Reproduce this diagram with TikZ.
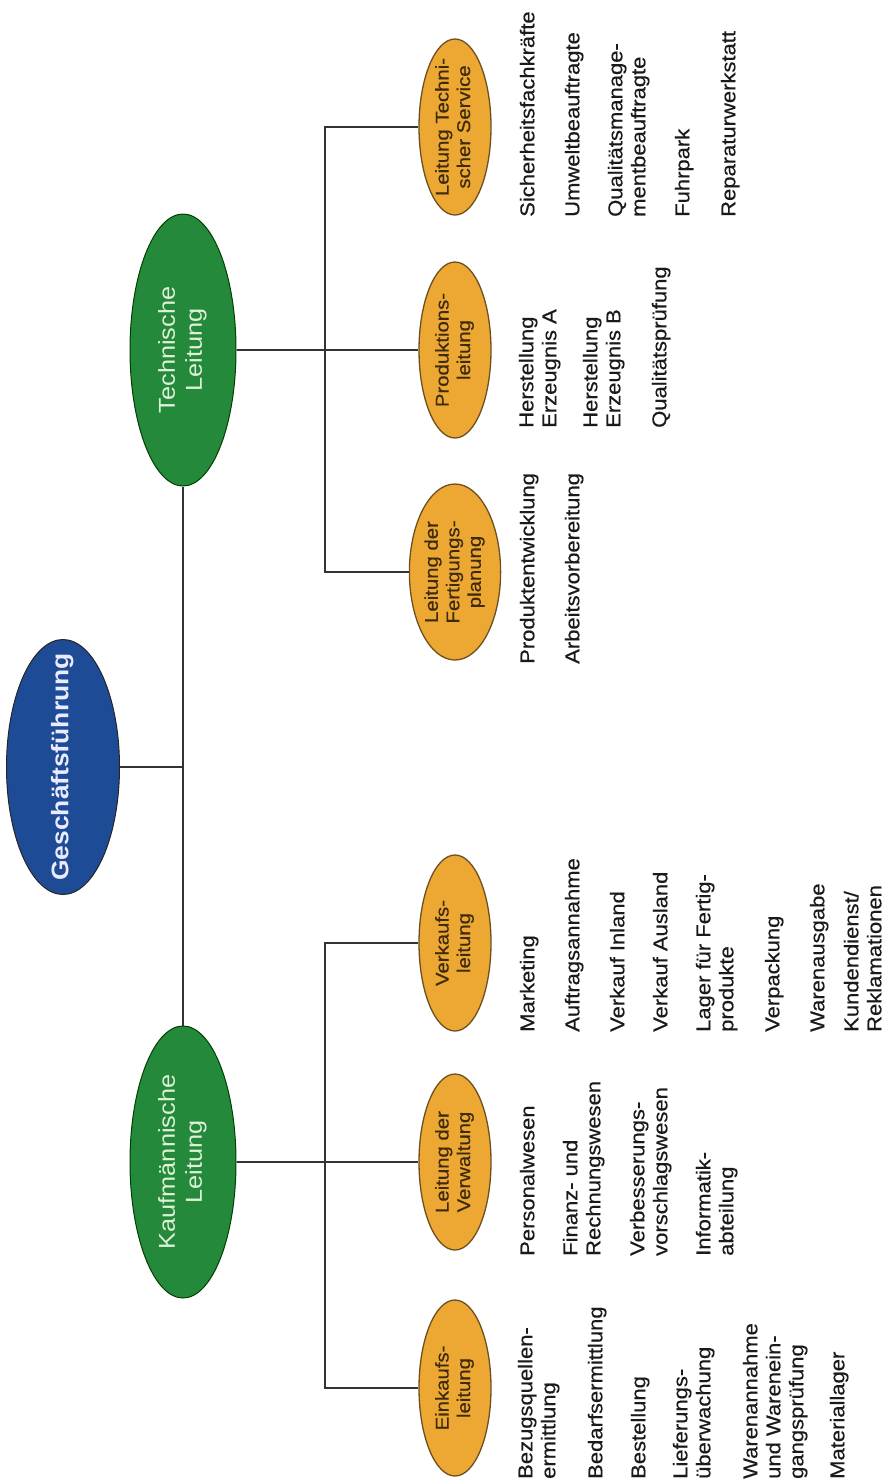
\documentclass[tikz,border=0pt]{standalone}
\usepackage{fontspec}
\setmainfont{Liberation Sans}[FakeStretch=1.1]
\newfontfamily\medfont{Liberation Sans}[FakeStretch=1.1, FakeBold=0.5]
\usetikzlibrary{shapes.geometric}
\definecolor{bossblue}{HTML}{1E4B96}
\definecolor{mgrgreen}{HTML}{24893A}
\definecolor{deptorange}{HTML}{ECA833}
\definecolor{deptline}{HTML}{6E5020}
\definecolor{depttext}{HTML}{3E2A0C}
\definecolor{mgrtext}{HTML}{DDF2D6}
\definecolor{listtext}{HTML}{1A1A1A}
\newcommand\rtxt[2][l]{\rotatebox{90}{\begin{tabular}{@{}#1@{}}#2\end{tabular}}}
\begin{document}
\begin{tikzpicture}[x=1pt,y=-1pt,
  boss/.style={ellipse, draw=black!85, line width=1pt, fill=bossblue, text=white!92!blue,
    font=\fontsize{24}{27}\selectfont\bfseries, inner xsep=0pt, inner ysep=-70pt,
    minimum width=113pt, minimum height=255pt},
  mgr/.style={ellipse, draw=green!25!black, line width=1pt, fill=mgrgreen, text=mgrtext,
    font=\fontsize{23}{27}\selectfont, inner xsep=0pt, inner ysep=-70pt,
    minimum width=106pt, minimum height=272pt},
  dept/.style={ellipse, draw=deptline, line width=1.3pt, fill=deptorange, text=depttext,
    font=\medfont\fontsize{18.5}{21.5}\selectfont, inner xsep=0pt, inner ysep=-50pt,
    minimum width=72pt, minimum height=176pt},
  lst/.style={anchor=south west, inner sep=0pt, text=listtext,
    font=\medfont\fontsize{20}{23}\selectfont},
  link/.style={draw=black!80, line width=1.6pt}]
\path[use as bounding box] (0,0) rectangle (888,1481);
\clip (0,0) rectangle (888,1481);

% main nodes
\node[boss] (gf) at (63,767) {\rtxt[c]{Geschäftsführung}};
\node[mgr] (tl) at (183,350) {\rtxt[c]{Technische\\Leitung}};
\node[mgr] (kl) at (183,1162) {\rtxt[c]{Kaufmännische\\Leitung}};

\node[dept] (ts) at (455,127) {\rtxt[c]{Leitung Techni-\\scher Service}};
\node[dept] (pl) at (455,350) {\rtxt[c]{Produktions-\\leitung}};
\node[dept] (fp) at (455,572) {\rtxt[c]{Leitung der\\Fertigungs-\\planung}};
\node[dept] (vk) at (455,943) {\rtxt[c]{Verkaufs-\\leitung}};
\node[dept] (vw) at (455,1162) {\rtxt[c]{Leitung der\\Verwaltung}};
\node[dept] (ek) at (455,1388) {\rtxt[c]{Einkaufs-\\leitung}};

% connectors
\coordinate (tb) at (325,350);
\coordinate (kb) at (325,1162);
\path[link] (tl.south) -- (kl.north);
\path[link] (gf.east) -- (gf.east -| tl.south);
\path[link] (tl.east) -- (pl.west);
\path[link] (ts.west) -| (tb) |- (fp.west);
\path[link] (kl.east) -- (vw.west);
\path[link] (vk.west) -| (kb) |- (ek.west);

% Technischer Service
\node[lst] (t1) at (518,217) {\rtxt{Sicherheitsfachkräfte}};
\node[lst] (t2) at (563,217) {\rtxt{Umweltbeauftragte}};
\node[lst] (t3) at (606,217) {\rtxt{Qualitätsmanage-\\mentbeauftragte}};
\node[lst] (t4) at (673,217) {\rtxt{Fuhrpark}};
\node[lst] (t5) at (719,217) {\rtxt{Reparaturwerkstatt}};

% Produktionsleitung
\node[lst] (p1) at (517,428) {\rtxt{Herstellung\\Erzeugnis A}};
\node[lst] (p2) at (581,428) {\rtxt{Herstellung\\Erzeugnis B}};
\node[lst] (p3) at (650,428) {\rtxt{Qualitätsprüfung}};

% Fertigungsplanung
\node[lst] (f1) at (518,664) {\rtxt{Produktentwicklung}};
\node[lst] (f2) at (563,664) {\rtxt{Arbeitsvorbereitung}};

% Verkauf
\node[lst] (v1) at (518,1032) {\rtxt{Marketing}};
\node[lst] (v2) at (563,1032) {\rtxt{Auftragsannahme}};
\node[lst] (v3) at (608,1032) {\rtxt{Verkauf Inland}};
\node[lst] (v4) at (651,1032) {\rtxt{Verkauf Ausland}};
\node[lst] (v5) at (694,1032) {\rtxt{Lager für Fertig-\\produkte}};
\node[lst] (v6) at (763,1032) {\rtxt{Verpackung}};
\node[lst] (v7) at (808,1032) {\rtxt{Warenausgabe}};
\node[lst] (v8) at (842,1032) {\rtxt{Kundendienst/\\Reklamationen}};

% Verwaltung
\node[lst] (w1) at (518,1256) {\rtxt{Personalwesen}};
\node[lst] (w2) at (561,1256) {\rtxt{Finanz- und\\Rechnungswesen}};
\node[lst] (w3) at (628,1256) {\rtxt{Verbesserungs-\\vorschlagswesen}};
\node[lst] (w4) at (694,1256) {\rtxt{Informatik-\\abteilung}};

% Einkauf
\node[lst] (e1) at (516,1479) {\rtxt{Bezugsquellen-\\ermittlung}};
\node[lst] (e2) at (586,1479) {\rtxt{Bedarfsermittlung}};
\node[lst] (e3) at (629,1479) {\rtxt{Bestellung}};
\node[lst] (e4) at (671,1479) {\rtxt{Lieferungs-\\überwachung}};
\node[lst] (e5) at (741,1479) {\rtxt{Warenannahme\\und Warenein-\\gangsprüfung}};
\node[lst] (e6) at (828,1479) {\rtxt{Materiallager}};
\end{tikzpicture}
\end{document}
